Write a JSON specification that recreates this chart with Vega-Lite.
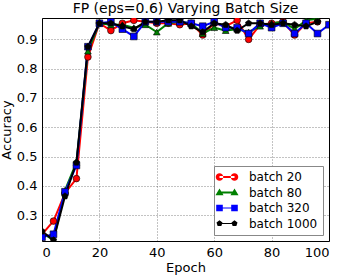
{
  "$schema": "https://vega.github.io/schema/vega-lite/v6.json",
  "autosize": "none",
  "width": 287,
  "height": 223,
  "padding": {"left": 42, "top": 18, "right": 17, "bottom": 36},
  "background": "white",
  "config": {
    "font": "DejaVu Sans",
    "view": {"stroke": "black", "strokeWidth": 1},
    "axis": {
      "labelFont": "DejaVu Sans", "labelFontSize": 13, "labelColor": "black",
      "titleFont": "DejaVu Sans", "titleFontSize": 13, "titleFontWeight": "normal", "titleColor": "black",
      "grid": true, "gridColor": "#000000", "gridOpacity": 0.6, "gridDash": [1, 2], "gridWidth": 0.8,
      "domain": false, "ticks": false, "labelPadding": 5
    }
  },
  "title": {"text": "FP (eps=0.6) Varying Batch Size", "fontSize": 14, "fontWeight": "normal", "font": "DejaVu Sans", "color": "black", "offset": 2},
  "data": {"values": [
    {"s": "batch 20", "e": 0, "a": 0.235}, {"s": "batch 20", "e": 4, "a": 0.28}, {"s": "batch 20", "e": 8, "a": 0.375}, {"s": "batch 20", "e": 12, "a": 0.425}, {"s": "batch 20", "e": 16, "a": 0.84},
    {"s": "batch 20", "e": 20, "a": 0.955}, {"s": "batch 20", "e": 24, "a": 0.93}, {"s": "batch 20", "e": 28, "a": 0.955}, {"s": "batch 20", "e": 32, "a": 0.965}, {"s": "batch 20", "e": 36, "a": 0.96},
    {"s": "batch 20", "e": 40, "a": 0.955}, {"s": "batch 20", "e": 44, "a": 0.955}, {"s": "batch 20", "e": 48, "a": 0.95}, {"s": "batch 20", "e": 52, "a": 0.955}, {"s": "batch 20", "e": 56, "a": 0.915},
    {"s": "batch 20", "e": 60, "a": 0.955}, {"s": "batch 20", "e": 64, "a": 0.945}, {"s": "batch 20", "e": 68, "a": 0.965}, {"s": "batch 20", "e": 72, "a": 0.90}, {"s": "batch 20", "e": 76, "a": 0.95},
    {"s": "batch 20", "e": 80, "a": 0.955}, {"s": "batch 20", "e": 84, "a": 0.96}, {"s": "batch 20", "e": 88, "a": 0.915}, {"s": "batch 20", "e": 92, "a": 0.955}, {"s": "batch 20", "e": 96, "a": 0.96},

    {"s": "batch 80", "e": 0, "a": 0.24}, {"s": "batch 80", "e": 4, "a": 0.215}, {"s": "batch 80", "e": 8, "a": 0.385}, {"s": "batch 80", "e": 12, "a": 0.48}, {"s": "batch 80", "e": 16, "a": 0.86},
    {"s": "batch 80", "e": 20, "a": 0.955}, {"s": "batch 80", "e": 24, "a": 0.95}, {"s": "batch 80", "e": 28, "a": 0.95}, {"s": "batch 80", "e": 32, "a": 0.94}, {"s": "batch 80", "e": 36, "a": 0.95},
    {"s": "batch 80", "e": 40, "a": 0.925}, {"s": "batch 80", "e": 44, "a": 0.955}, {"s": "batch 80", "e": 48, "a": 0.96}, {"s": "batch 80", "e": 52, "a": 0.955}, {"s": "batch 80", "e": 56, "a": 0.92},
    {"s": "batch 80", "e": 60, "a": 0.94}, {"s": "batch 80", "e": 64, "a": 0.93}, {"s": "batch 80", "e": 68, "a": 0.935}, {"s": "batch 80", "e": 72, "a": 0.925}, {"s": "batch 80", "e": 76, "a": 0.945},
    {"s": "batch 80", "e": 80, "a": 0.955}, {"s": "batch 80", "e": 84, "a": 0.96}, {"s": "batch 80", "e": 88, "a": 0.935}, {"s": "batch 80", "e": 92, "a": 0.965}, {"s": "batch 80", "e": 96, "a": 0.97},

    {"s": "batch 320", "e": 0, "a": 0.225}, {"s": "batch 320", "e": 4, "a": 0.235}, {"s": "batch 320", "e": 8, "a": 0.38}, {"s": "batch 320", "e": 12, "a": 0.47}, {"s": "batch 320", "e": 16, "a": 0.875},
    {"s": "batch 320", "e": 20, "a": 0.955}, {"s": "batch 320", "e": 24, "a": 0.96}, {"s": "batch 320", "e": 28, "a": 0.935}, {"s": "batch 320", "e": 32, "a": 0.91}, {"s": "batch 320", "e": 36, "a": 0.96},
    {"s": "batch 320", "e": 40, "a": 0.96}, {"s": "batch 320", "e": 44, "a": 0.96}, {"s": "batch 320", "e": 48, "a": 0.96}, {"s": "batch 320", "e": 52, "a": 0.955}, {"s": "batch 320", "e": 56, "a": 0.945},
    {"s": "batch 320", "e": 60, "a": 0.96}, {"s": "batch 320", "e": 64, "a": 0.94}, {"s": "batch 320", "e": 68, "a": 0.94}, {"s": "batch 320", "e": 72, "a": 0.92}, {"s": "batch 320", "e": 76, "a": 0.955},
    {"s": "batch 320", "e": 80, "a": 0.94}, {"s": "batch 320", "e": 84, "a": 0.955}, {"s": "batch 320", "e": 88, "a": 0.92}, {"s": "batch 320", "e": 92, "a": 0.955}, {"s": "batch 320", "e": 96, "a": 0.92},
    {"s": "batch 320", "e": 100, "a": 0.95},

    {"s": "batch 1000", "e": 0, "a": 0.245}, {"s": "batch 1000", "e": 4, "a": 0.215}, {"s": "batch 1000", "e": 8, "a": 0.365}, {"s": "batch 1000", "e": 12, "a": 0.48}, {"s": "batch 1000", "e": 16, "a": 0.875},
    {"s": "batch 1000", "e": 20, "a": 0.955}, {"s": "batch 1000", "e": 24, "a": 0.955}, {"s": "batch 1000", "e": 28, "a": 0.945}, {"s": "batch 1000", "e": 32, "a": 0.935}, {"s": "batch 1000", "e": 36, "a": 0.96},
    {"s": "batch 1000", "e": 40, "a": 0.96}, {"s": "batch 1000", "e": 44, "a": 0.965}, {"s": "batch 1000", "e": 48, "a": 0.965}, {"s": "batch 1000", "e": 52, "a": 0.945}, {"s": "batch 1000", "e": 56, "a": 0.925},
    {"s": "batch 1000", "e": 60, "a": 0.955}, {"s": "batch 1000", "e": 64, "a": 0.95}, {"s": "batch 1000", "e": 68, "a": 0.93}, {"s": "batch 1000", "e": 72, "a": 0.955}, {"s": "batch 1000", "e": 76, "a": 0.955},
    {"s": "batch 1000", "e": 80, "a": 0.95}, {"s": "batch 1000", "e": 84, "a": 0.955}, {"s": "batch 1000", "e": 88, "a": 0.95}, {"s": "batch 1000", "e": 92, "a": 0.945}, {"s": "batch 1000", "e": 96, "a": 0.96}
  ]},
  "encoding": {
    "x": {"field": "e", "type": "quantitative", "title": "Epoch", "scale": {"domain": [0, 100], "nice": false}, "axis": {"values": [0, 20, 40, 60, 80, 100], "titlePadding": 2}},
    "y": {"field": "a", "type": "quantitative", "title": "Accuracy", "scale": {"domain": [0.212, 0.973], "nice": false, "zero": false}, "axis": {"values": [0.3, 0.4, 0.5, 0.6, 0.7, 0.8, 0.9], "format": ".1f", "titlePadding": 3}},
    "order": {"field": "e"}
  },
  "resolve": {"scale": {"shape": "independent"}, "legend": {"color": "independent", "shape": "independent"}},
  "layer": [
    {"mark": {"type": "line", "strokeWidth": 2, "clip": true},
     "encoding": {
       "color": {"field": "s", "type": "nominal", "legend": null,
         "scale": {"domain": ["batch 20", "batch 80", "batch 320", "batch 1000"], "range": ["#ff0000", "#008000", "#0000ff", "#000000"]}}
     }},
    {"mark": {"type": "point", "filled": true, "size": 45, "opacity": 1, "stroke": "black", "strokeWidth": 0.6, "clip": true},
     "encoding": {
       "color": {"field": "s", "type": "nominal", "legend": null,
         "scale": {"domain": ["batch 20", "batch 80", "batch 320", "batch 1000"], "range": ["#ff0000", "#008000", "#0000ff", "#000000"]}},
       "shape": {"field": "s", "type": "nominal", "legend": null,
         "scale": {"domain": ["batch 20", "batch 80", "batch 320", "batch 1000"], "range": ["circle", "triangle-up", "square", "M0,-1L0.95,-0.31L0.59,0.81L-0.59,0.81L-0.95,-0.31Z"]}}
     }},
    {"transform": [{"filter": "datum.e < 0"}],
     "mark": {"type": "point", "filled": true, "size": 36, "opacity": 1, "clip": true},
     "encoding": {
       "color": {"field": "s", "type": "nominal", "title": null,
         "scale": {"domain": ["batch 20", "batch 80", "batch 320", "batch 1000"], "range": ["#ff0000", "#008000", "#0000ff", "#000000"]},
         "legend": {"orient": "bottom-right", "offset": 6, "strokeColor": "#888888", "fillColor": "white", "padding": 5, "labelFontSize": 12, "labelFont": "DejaVu Sans", "labelColor": "black", "symbolSize": 36, "rowPadding": 3.5, "symbolStrokeWidth": 0, "symbolOpacity": 1, "symbolOffset": 2, "labelOffset": 16}},
       "shape": {"field": "s", "type": "nominal", "title": null,
         "scale": {"domain": ["batch 20", "batch 80", "batch 320", "batch 1000"], "range": [
           "M-2.5,-0.33L2.5,-0.33L2.5,0.33L-2.5,0.33Z M-3.75,0A1.25,1.25 0 1,0 -1.25,0A1.25,1.25 0 1,0 -3.75,0Z M1.25,0A1.25,1.25 0 1,0 3.75,0A1.25,1.25 0 1,0 1.25,0Z",
           "M-2.5,-0.33L2.5,-0.33L2.5,0.33L-2.5,0.33Z M-3.85,0.9L-2.5,-1.3L-1.15,0.9Z M1.15,0.9L2.5,-1.3L3.85,0.9Z",
           "M-2.5,-0.2L2.5,-0.2L2.5,0.2L-2.5,0.2Z M-3.6,-1.1L-1.4,-1.1L-1.4,1.1L-3.6,1.1Z M1.4,-1.1L3.6,-1.1L3.6,1.1L1.4,1.1Z",
           "M-2.5,-0.2L2.5,-0.2L2.5,0.2L-2.5,0.2Z M-2.5,-1.05L-1.5,-0.32L-1.88,0.85L-3.12,0.85L-3.5,-0.32Z M2.5,-1.05L3.5,-0.32L3.12,0.85L1.88,0.85L1.5,-0.32Z"]},
         "legend": {}}
     }}
  ]
}
